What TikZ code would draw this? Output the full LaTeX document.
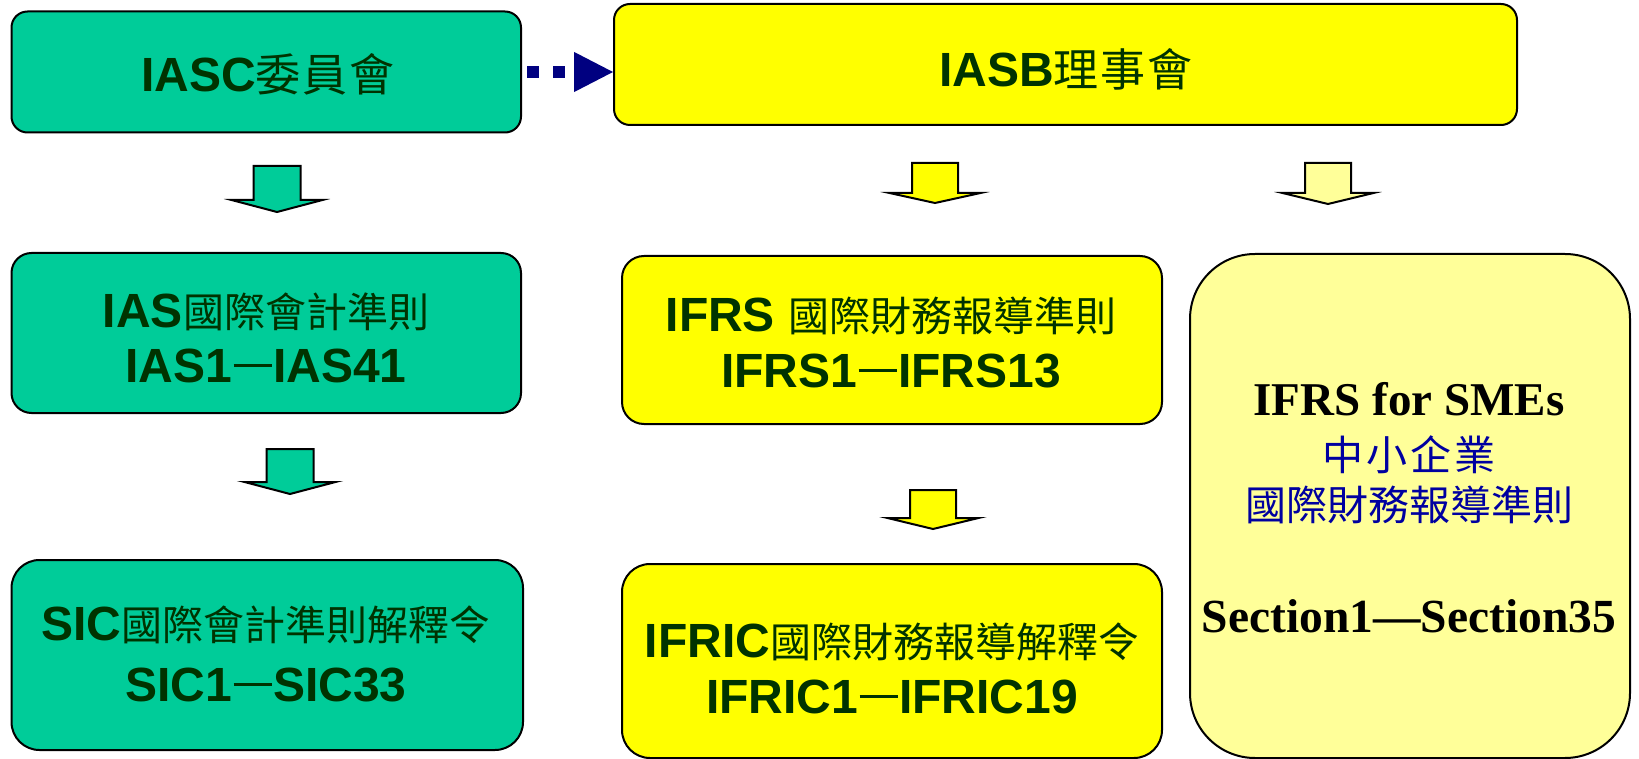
\documentclass[tikz,border=0pt]{standalone}
\usepackage{fontspec}
\setmainfont{Liberation Sans}
\newfontfamily\cjkfont{Noto Sans CJK TC}
\newfontfamily\seriffont{Liberation Serif}
\usetikzlibrary{arrows.meta}
\definecolor{boxgreen}{RGB}{0,204,153}
\definecolor{boxyellow}{RGB}{255,255,0}
\definecolor{paleyellow}{RGB}{255,255,153}
\definecolor{txtgreen}{RGB}{0,51,0}
\definecolor{navyarrow}{RGB}{0,0,128}
\definecolor{cjkblue}{RGB}{0,0,160}
\newcommand\latbig[1]{{\fontsize{48pt}{48pt}\selectfont\bfseries #1}}
\newcommand\cjkbig[1]{{\cjkfont\fontsize{41pt}{41pt}\selectfont #1}}
\newcommand\cjktop[1]{{\cjkfont\fontsize{45pt}{45pt}\selectfont #1}}
\newcommand\cjkdash{\hspace{1.5pt}\rule[15pt]{38pt}{2.6pt}\hspace{1.5pt}}
\newcommand\blkarrow[6]{%
  \filldraw[#1] (#2-#6,#3) -- (#2+#6,#3) -- (#2+#6,#4) -- (#2+45.5,#4) -- (#2,#5) -- (#2-45.5,#4) -- (#2-#6,#4) -- cycle;}
\tikzset{
  box/.style={draw=black, line width=2pt, inner sep=0pt, outer sep=0pt},
  gbox/.style={box, fill=boxgreen},
  ybox/.style={box, fill=boxyellow},
  pbox/.style={box, fill=paleyellow},
  gtxt/.style={anchor=base, text=txtgreen, inner sep=0pt},
  garrow/.style={draw=black, fill=boxgreen, line width=2pt, line join=miter},
  yarrow/.style={draw=black, fill=boxyellow, line width=2pt, line join=miter},
  parrow/.style={draw=black, fill=paleyellow, line width=2pt, line join=miter},
  dotline/.style={draw=navyarrow, line width=12pt, line cap=butt, dash pattern=on 12pt off 14pt,
    -{Triangle[length=40pt,width=37pt]}}
}
\begin{document}
\begin{tikzpicture}[x=1pt,y=-1pt]
\useasboundingbox (0,0) rectangle (1639,759);
% boxes
\node[gbox, rounded corners=16pt, minimum width=509.5pt, minimum height=121pt] (iasc) at (266.25,72) {};
\node[ybox, rounded corners=16pt, minimum width=903pt, minimum height=121pt] (iasb) at (1065.5,64.5) {};
\node[gbox, rounded corners=20pt, minimum width=509.5pt, minimum height=160pt] (ias) at (266.25,333) {};
\node[gbox, rounded corners=28pt, minimum width=511.5pt, minimum height=190pt] (sic) at (267.25,655) {};
\node[ybox, rounded corners=22pt, minimum width=540pt, minimum height=168pt] (ifrs) at (892,340) {};
\node[ybox, rounded corners=28pt, minimum width=540pt, minimum height=194pt] (ifric) at (892,661) {};
\node[pbox, rounded corners=65pt, minimum width=440pt, minimum height=504pt] (smes) at (1410,506) {};
% texts
\node[gtxt] (t-iasc) at (268,92) {\latbig{IASC}\cjktop{委\hspace{2pt}員\hspace{2pt}會}};
\node[gtxt] (t-iasb) at (1066,87) {\latbig{IASB}\cjktop{理\hspace{2pt}事\hspace{2pt}會}};
\node[gtxt] (t-ias1) at (266,327) {\latbig{IAS}\cjkbig{國際會計準則}};
\node[gtxt] (t-ias2) at (266,382) {\latbig{IAS1}\cjkdash\latbig{IAS41}};
\node[gtxt] (t-sic1) at (266,640) {\latbig{SIC}\cjkbig{國際會計準則解釋令}};
\node[gtxt] (t-sic2) at (266,701) {\latbig{SIC1}\cjkdash\latbig{SIC33}};
\node[gtxt] (t-ifrs1) at (891,332) {\latbig{IFRS }\cjkbig{國際財務報導準則}};
\node[gtxt] (t-ifrs2) at (891,387) {\latbig{IFRS1}\cjkdash\latbig{IFRS13}};
\node[gtxt] (t-ifric1) at (892,657) {\latbig{IFRIC}\cjkbig{國際財務報導解釋令}};
\node[gtxt] (t-ifric2) at (892,713) {\latbig{IFRIC1}\cjkdash\latbig{IFRIC19}};
\node[anchor=base, inner sep=0pt] (t-sme1) at (1409,415) {\seriffont\fontsize{47pt}{47pt}\selectfont\bfseries IFRS for SMEs};
\node[anchor=base, inner sep=0pt, text=cjkblue] (t-sme2) at (1409,470) {\cjkbig{中\hspace{3pt}小\hspace{3pt}企\hspace{3pt}業}};
\node[anchor=base, inner sep=0pt, text=cjkblue] (t-sme3) at (1409,520) {\cjkbig{國際財務報導準則}};
\node[anchor=base, inner sep=0pt] (t-sme4) at (1409,632) {\seriffont\fontsize{47.5pt}{47.5pt}\selectfont\bfseries Section1—Section35};
% dotted arrow
\draw[dotline] ([xshift=6pt]iasc.east) -- (iasc.east -| iasb.west);
% block arrows
\blkarrow{garrow}{277}{166}{200}{212}{23.5}
\blkarrow{garrow}{290}{449}{482}{494}{23.5}
\blkarrow{yarrow}{935}{163}{193}{203}{23}
\blkarrow{yarrow}{933}{490}{518}{529}{23}
\blkarrow{parrow}{1328}{163}{193}{204}{23}
\end{tikzpicture}
\end{document}
